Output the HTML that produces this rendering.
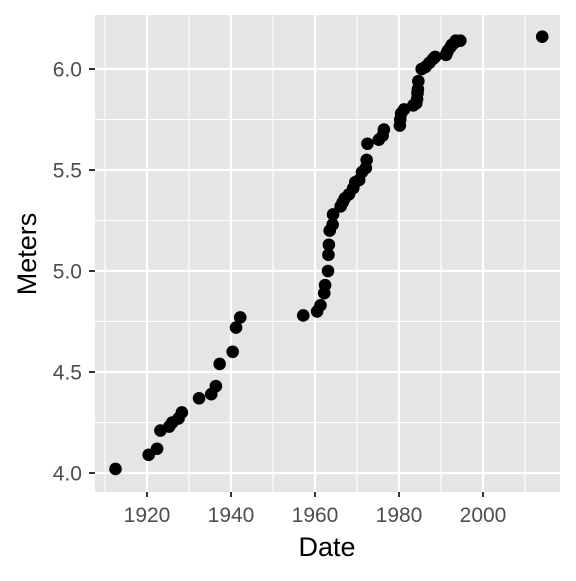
<!DOCTYPE html>
<html><head><meta charset="utf-8"><style>
html,body{margin:0;padding:0;background:#fff;}
svg text{font-family:"Liberation Sans",Arial,sans-serif;}
</style></head><body>
<svg id="chart" width="576" height="576" xmlns="http://www.w3.org/2000/svg">
<rect x="0" y="0" width="576" height="576" fill="#fff"/>
<rect id="panel" x="95" y="15" width="465" height="477" fill="#e5e5e5"/>
<g id="grid"></g>
<g id="points"></g>
<g id="axes"></g>
<text x="327" y="556" text-anchor="middle" font-size="27" fill="#000">Date</text>
<text transform="translate(36,254) rotate(-90)" text-anchor="middle" font-size="27" fill="#000">Meters</text>
</svg>
<script>
const years = [1912.5,1920.4,1922.4,1923.2,1925.3,1926,1927.5,1928.3,1932.4,1935.3,1936.4,1937.3,1940.4,1941.2,1942.2,1957.2,1960.5,1961.3,1962.2,1962.4,1963.1,1963.2,1963.3,1963.5,1964.2,1964.3,1966.1,1966.6,1967.1,1968.1,1969.1,1969.6,1970.5,1971.2,1972.1,1972.3,1972.5,1975.2,1976.1,1976.4,1980.2,1980.3,1980.5,1981.2,1983.4,1984.1,1984.3,1984.4,1984.5,1984.6,1985.4,1986.3,1987.2,1988.1,1988.6,1991.2,1991.4,1991.6,1992.3,1992.6,1993.2,1993.5,1994.6,2014.1];
const meters = [4.02,4.09,4.12,4.21,4.23,4.25,4.27,4.30,4.37,4.39,4.43,4.54,4.60,4.72,4.77,4.78,4.80,4.83,4.89,4.93,5.00,5.08,5.13,5.20,5.23,5.28,5.32,5.34,5.36,5.38,5.41,5.44,5.45,5.49,5.51,5.55,5.63,5.65,5.67,5.70,5.72,5.75,5.78,5.80,5.82,5.83,5.85,5.88,5.90,5.94,6.00,6.01,6.03,6.05,6.06,6.07,6.08,6.09,6.11,6.12,6.13,6.14,6.14,6.16];
const xTicks = [1920,1940,1960,1980,2000];
const xMinor = [1910,1930,1950,1970,1990,2010];
const yTicks = [4.0,4.5,5.0,5.5,6.0];
const yMinor = [4.25,4.75,5.25,5.75];

const NS="http://www.w3.org/2000/svg";
const X = v => 147 + (v-1920)*4.2;
const Y = v => 473 - (v-4)*202;
function mk(tag, attrs, parent){const e=document.createElementNS(NS,tag);for(const k in attrs)e.setAttribute(k,attrs[k]);parent.appendChild(e);return e;}
const grid=document.getElementById('grid'), pts=document.getElementById('points'), axes=document.getElementById('axes');
xMinor.forEach(v=>{const l=mk('line',{x1:X(v),x2:X(v),y1:15,y2:492,stroke:'#fff','stroke-width':1.1},grid);

});
yMinor.forEach(v=>{const l=mk('line',{x1:95,x2:560,y1:Y(v),y2:Y(v),stroke:'#fff','stroke-width':1.1},grid);

});
xTicks.forEach(v=>{const l=mk('line',{x1:X(v),x2:X(v),y1:15,y2:492,stroke:'#fff','stroke-width':2.2},grid);


const t=mk('line',{x1:X(v),x2:X(v),y1:492,y2:497,stroke:'#333','stroke-width':2},axes);


const tx=mk('text',{x:X(v),y:522,'text-anchor':'middle','font-size':21,fill:'#4d4d4d'},axes);tx.textContent=v;

});
yTicks.forEach(v=>{const l=mk('line',{x1:95,x2:560,y1:Y(v),y2:Y(v),stroke:'#fff','stroke-width':2.2},grid);


const t=mk('line',{x1:89,x2:95,y1:Y(v),y2:Y(v),stroke:'#333','stroke-width':2},axes);


const tx=mk('text',{x:82,y:Y(v)+7.5,'text-anchor':'end','font-size':21,fill:'#4d4d4d'},axes);tx.textContent=v.toFixed(1);

});
years.forEach((yr,i)=>{const c=mk('circle',{cx:X(yr),cy:Y(meters[i]),r:6.3,fill:'#000'},pts);

});
</script>
</body></html>
